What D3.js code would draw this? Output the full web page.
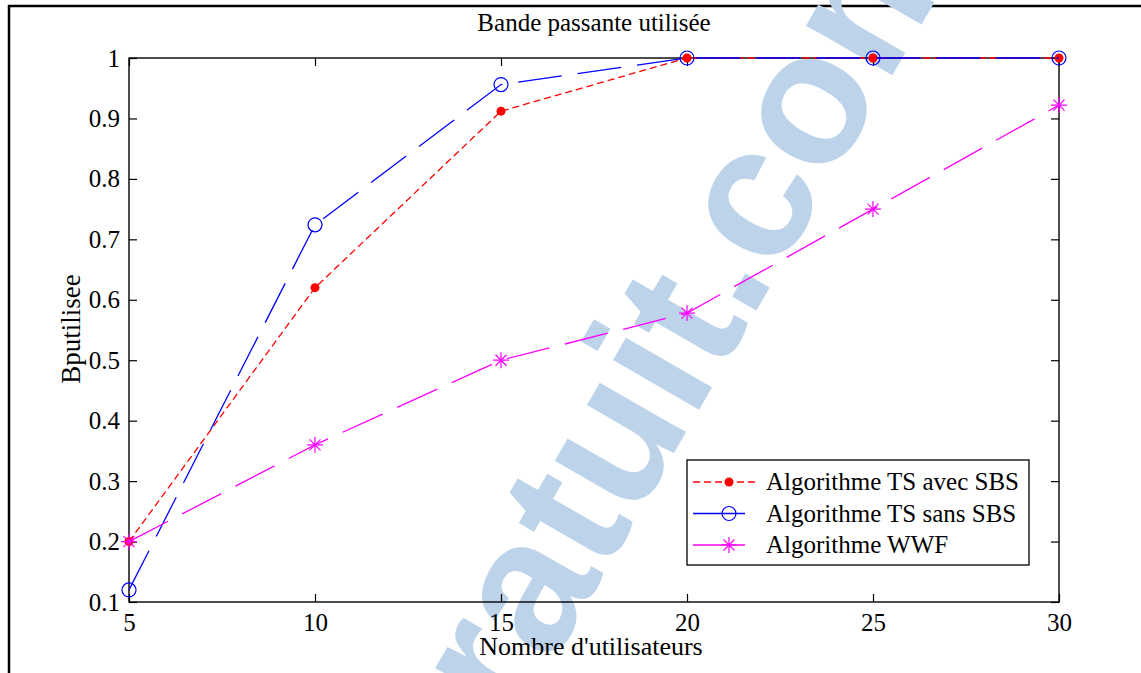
<!DOCTYPE html>
<html lang="fr">
<head>
<meta charset="utf-8">
<script src="https://d3js.org/d3.v7.min.js"></script>
<style>
  body { margin: 0; background: #fff; }
  svg text { font-family: "Liberation Serif", "Times New Roman", serif; fill: #000; }
</style>
</head>
<body>
<script>
// data
var users = [5, 10, 15, 20, 25, 30];
var tsAvecSbs = [0.2, 0.62, 0.912, 1, 1, 1];
var tsSansSbs = [0.12, 0.724, 0.956, 1, 1, 1];
var wwf = [0.2, 0.36, 0.5, 0.578, 0.75, 0.922];
var seriesNames = ['Algorithme TS avec SBS', 'Algorithme TS sans SBS', 'Algorithme WWF'];
var xTicks = [5, 10, 15, 20, 25, 30];
var yTicks = [0.1, 0.2, 0.3, 0.4, 0.5, 0.6, 0.7, 0.8, 0.9, 1];

var width = 1141, height = 673;
var m = {left: 129, top: 58, right: 1059, bottom: 602};

var svg = d3.select('body').append('svg').attr('width', width).attr('height', height);

// outer figure frame (cut by the right and bottom edges)
svg.append('rect').attr('x', 9).attr('y', 6).attr('width', 1300).attr('height', 900)
  .attr('fill', 'none').attr('stroke', '#000').attr('stroke-width', 2.5);

// watermark, behind everything else
var wm = svg.append('g').attr('transform', 'translate(763,299) rotate(-60)');
var wmText = wm.append('text').text('ratuit.com')
  .style('font-family', '"Liberation Sans", Arial, sans-serif')
  .style('font-weight', 'bold').style('font-size', '188px')
  .style('fill', '#bcd3ea');
var pre = wmText.node().getSubStringLength(0, 6);
var dotW = wmText.node().getSubStringLength(6, 1);
wmText.attr('x', -pre - dotW / 2).attr('y', 0);

var x = d3.scaleLinear().domain([5, 30]).range([m.left, m.right]);
var y = d3.scaleLinear().domain([0.1, 1]).range([m.bottom, m.top]);

var tick = 8;
// axes: MATLAB style box, ticks inside on all four sides
var xb = svg.append('g').attr('transform', 'translate(0,' + m.bottom + ')')
  .call(d3.axisBottom(x).tickValues(xTicks).tickSize(-tick).tickPadding(11).tickFormat(d3.format('d')))
  .call(g => g.select('.domain').remove());
svg.append('g').attr('transform', 'translate(0,' + m.top + ')')
  .call(d3.axisTop(x).tickValues(xTicks).tickSize(-tick).tickFormat(''))
  .call(g => g.select('.domain').remove());
svg.append('g').attr('transform', 'translate(' + m.left + ',0)')
  .call(d3.axisLeft(y).tickValues(yTicks).tickSize(-tick).tickPadding(9).tickFormat(d => d === 1 ? '1' : d3.format('.1f')(d)))
  .call(g => g.select('.domain').remove());
svg.append('g').attr('transform', 'translate(' + m.right + ',0)')
  .call(d3.axisRight(y).tickValues(yTicks).tickSize(-tick).tickFormat(''))
  .call(g => g.select('.domain').remove());
svg.selectAll('.tick text').style('font-size', '25px').style('font-family', '"Liberation Serif", serif');
svg.selectAll('.tick line').attr('stroke', '#000').attr('stroke-width', 1.2);
xb.selectAll('.tick text').attr('y', 11).attr('dy', '0.71em');

svg.append('rect').attr('x', m.left).attr('y', m.top)
  .attr('width', m.right - m.left).attr('height', m.bottom - m.top)
  .attr('fill', 'none').attr('stroke', '#000').attr('stroke-width', 1.4);

// series
var series = [
  {name: seriesNames[0], values: tsAvecSbs, color: '#ff0000', dash: '7,4', marker: 'dot'},
  {name: seriesNames[1], values: tsSansSbs, color: '#0000ff', dash: '44,16', marker: 'circle'},
  {name: seriesNames[2], values: wwf, color: '#ff00ff', dash: '44,16', marker: 'star'}
];

var line = d3.line().x((d, i) => x(users[i])).y(d => y(d));

function drawMarker(g, kind, cx, cy, color) {
  if (kind === 'dot') {
    g.append('circle').attr('cx', cx).attr('cy', cy).attr('r', 4.5).attr('fill', color);
  } else if (kind === 'circle') {
    g.append('circle').attr('cx', cx).attr('cy', cy).attr('r', 7)
      .attr('fill', 'none').attr('stroke', color).attr('stroke-width', 1.2);
  } else {
    var s = 8, d = 5.5;
    var p = 'M' + (cx - s) + ',' + cy + 'H' + (cx + s) +
      'M' + cx + ',' + (cy - s) + 'V' + (cy + s) +
      'M' + (cx - d) + ',' + (cy - d) + 'L' + (cx + d) + ',' + (cy + d) +
      'M' + (cx - d) + ',' + (cy + d) + 'L' + (cx + d) + ',' + (cy - d);
    g.append('path').attr('d', p).attr('stroke', color).attr('stroke-width', 1.2).attr('fill', 'none');
  }
}

series.forEach(function(s) {
  var g = svg.append('g');
  g.append('path').datum(s.values).attr('d', line)
    .attr('fill', 'none').attr('stroke', s.color).attr('stroke-width', 1.3)
    .attr('stroke-dasharray', s.dash);
  s.values.forEach(function(v, i) { drawMarker(g, s.marker, x(users[i]), y(v), s.color); });
});

// legend
var lg = svg.append('g');
lg.append('rect').attr('x', 687).attr('y', 460).attr('width', 342).attr('height', 105)
  .attr('fill', '#fff').attr('stroke', '#000').attr('stroke-width', 1.3);
var legDash = ['7,4', '52,13', '52,13'];
series.forEach(function(s, i) {
  var ly = 482 + i * 31.5;
  lg.append('line').attr('x1', 693).attr('x2', 758).attr('y1', ly).attr('y2', ly)
    .attr('stroke', s.color).attr('stroke-width', 1.3).attr('stroke-dasharray', legDash[i]);
  drawMarker(lg, s.marker, 729, ly, s.color);
  lg.append('text').attr('x', 766).attr('y', ly + 8).style('font-size', '25px').text(s.name);
});

// titles
svg.append('text').attr('x', (m.left + m.right) / 2).attr('y', 31)
  .attr('text-anchor', 'middle').style('font-size', '25px').text('Bande passante utilisée');
svg.append('text').attr('x', 591).attr('y', 655)
  .attr('text-anchor', 'middle').style('font-size', '26px').text("Nombre d'utilisateurs");
svg.append('text').attr('transform', 'translate(80,329) rotate(-90)')
  .attr('text-anchor', 'middle').style('font-size', '27px').text('Bputilisee');
</script>
</body>
</html>
